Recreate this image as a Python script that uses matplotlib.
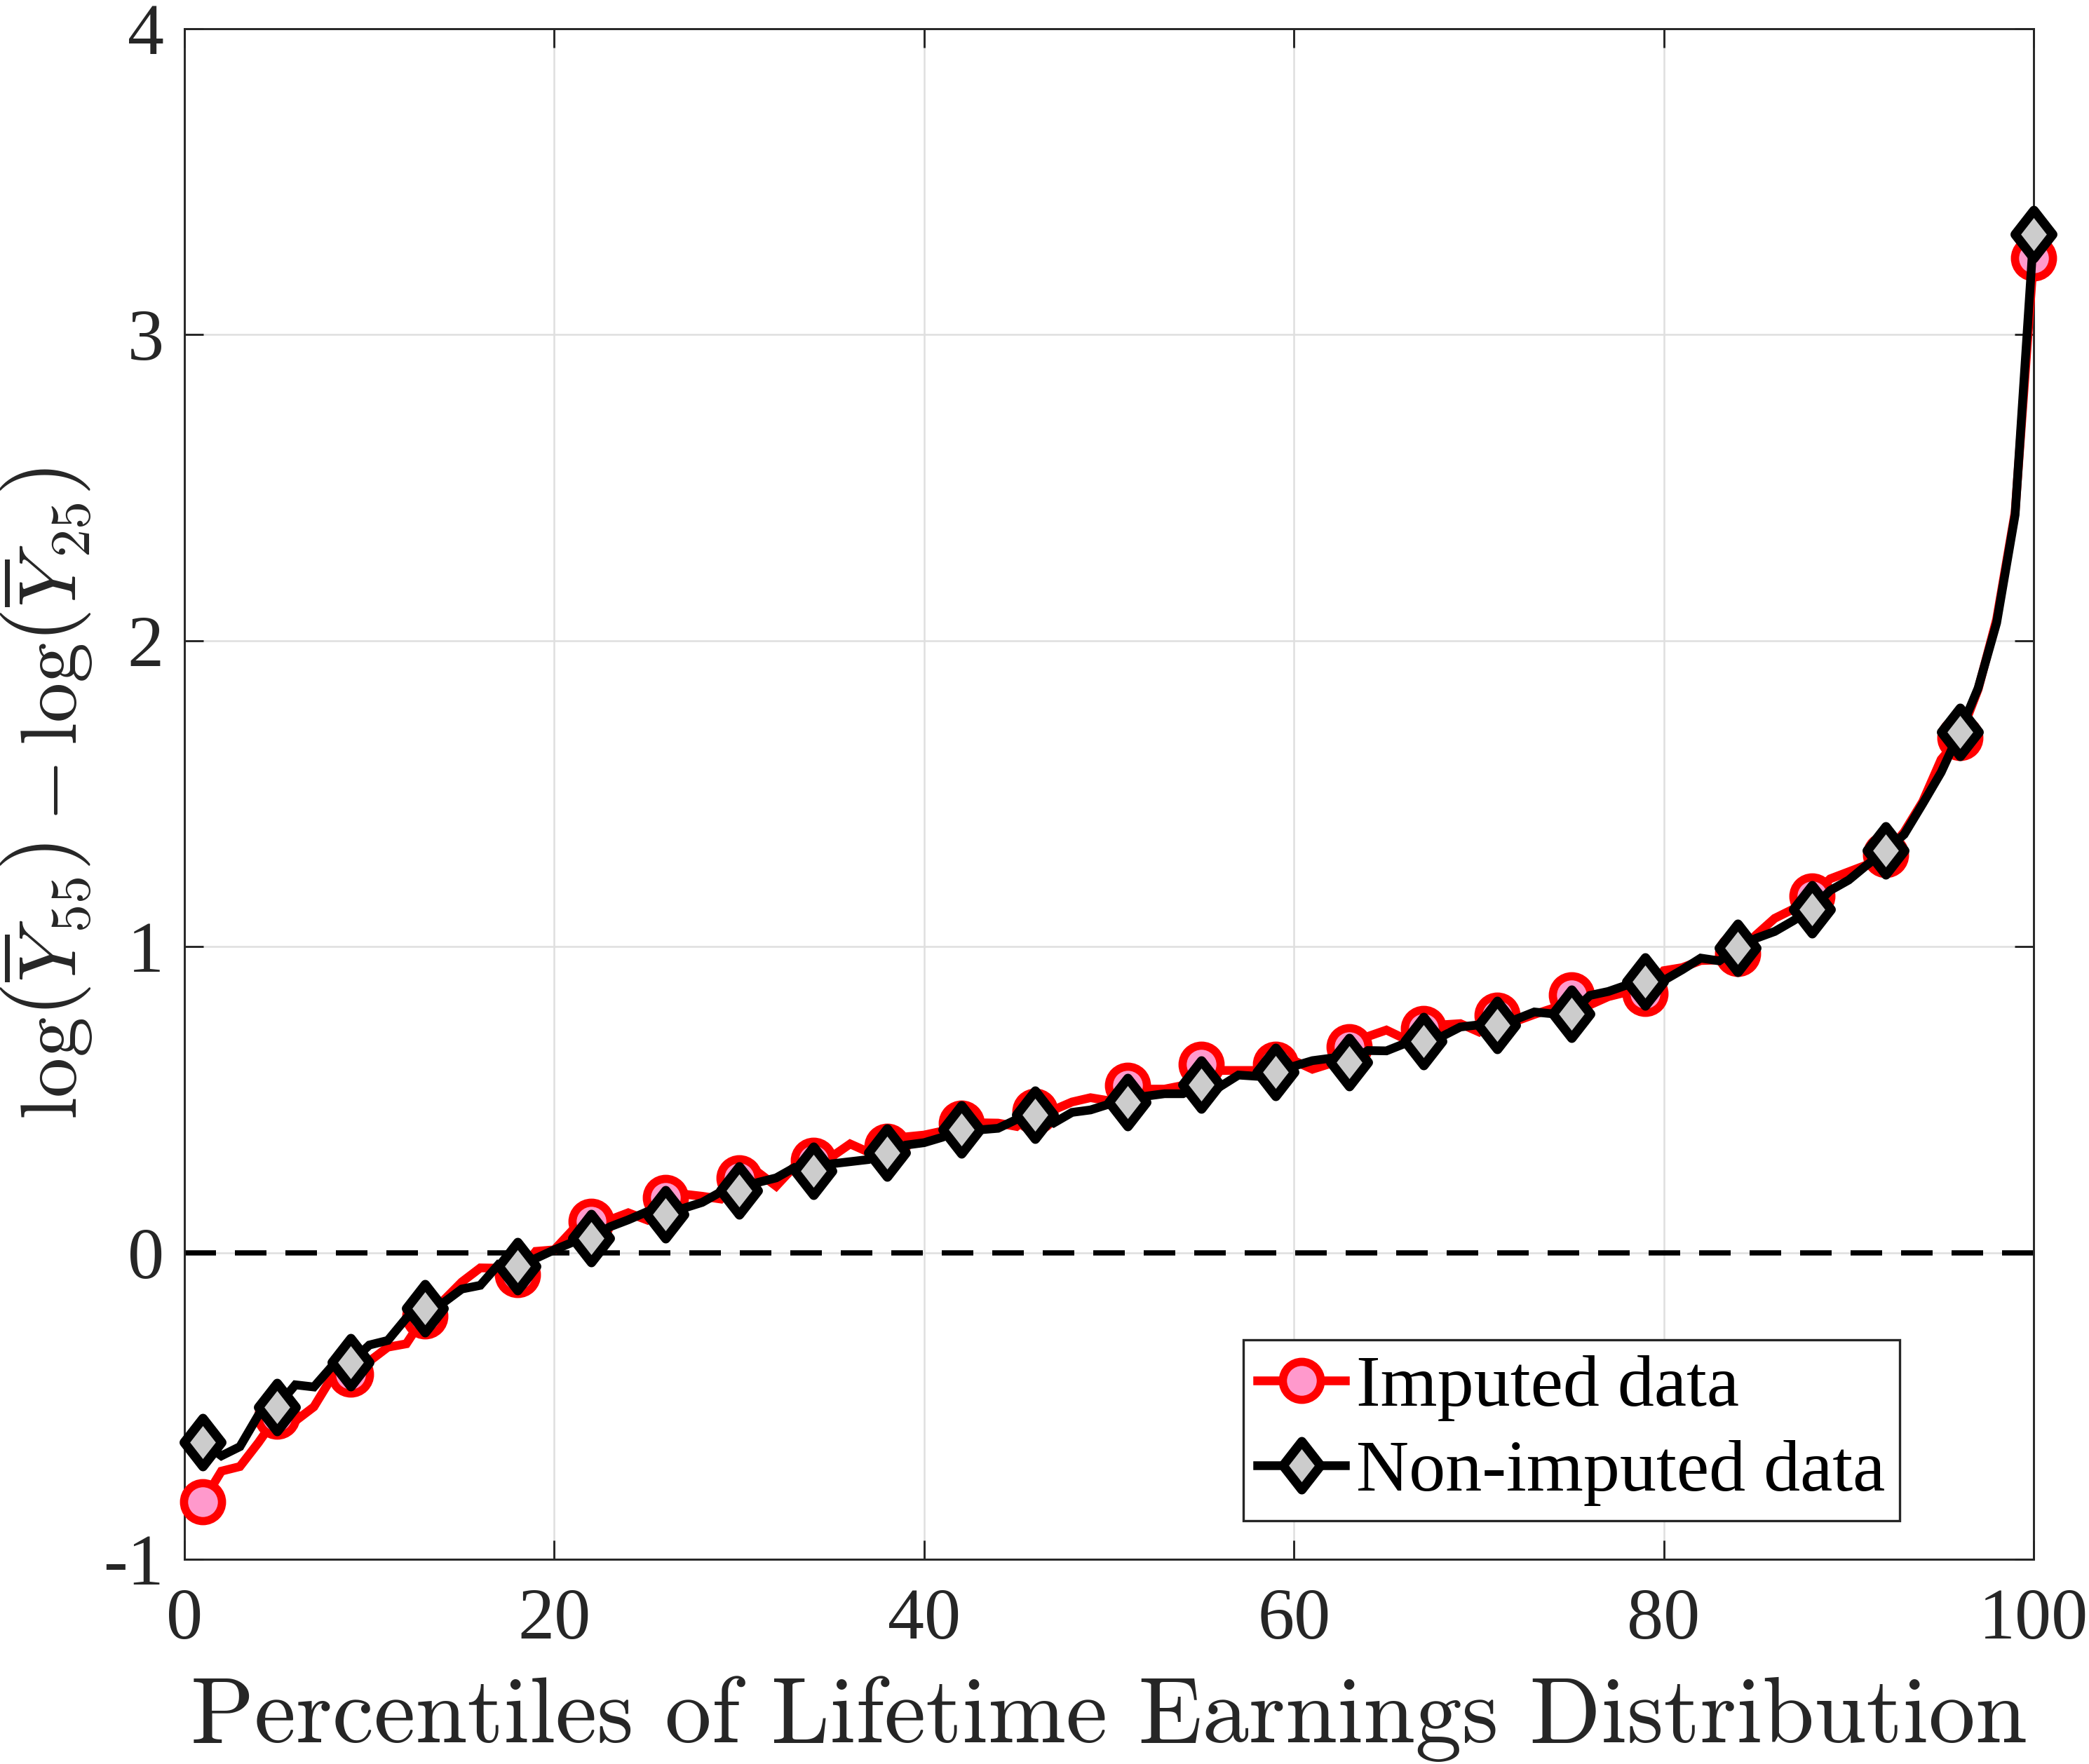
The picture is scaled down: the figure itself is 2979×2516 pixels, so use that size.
import numpy as np
import matplotlib
matplotlib.use("Agg")
import matplotlib.pyplot as plt
from matplotlib.path import Path

# ---------------- data ----------------
percentiles = list(range(1, 101))

imputed = [
    -0.812, -0.713, -0.698, -0.620, -0.534, -0.549, -0.503, -0.404, -0.396, -0.354,
    -0.308, -0.297, -0.205, -0.156, -0.095, -0.049, -0.050, -0.072, 0.005, 0.010,
    0.075, 0.104, 0.108, 0.131, 0.108, 0.180, 0.192, 0.185, 0.176, 0.245,
    0.264, 0.218, 0.283, 0.302, 0.314, 0.356, 0.329, 0.348, 0.379, 0.385,
    0.398, 0.424, 0.425, 0.424, 0.413, 0.463, 0.467, 0.493, 0.507, 0.497,
    0.547, 0.535, 0.535, 0.547, 0.615, 0.596, 0.596, 0.596, 0.615, 0.628,
    0.600, 0.619, 0.673, 0.707, 0.728, 0.699, 0.734, 0.745, 0.749, 0.722,
    0.776, 0.757, 0.779, 0.799, 0.844, 0.810, 0.837, 0.852, 0.848, 0.922,
    0.932, 0.955, 0.957, 0.978, 1.039, 1.093, 1.123, 1.165, 1.222, 1.245,
    1.268, 1.302, 1.375, 1.474, 1.612, 1.684, 1.841, 2.070, 2.420, 3.251,
]

non_imputed = [
    -0.618, -0.663, -0.633, -0.530, -0.503, -0.431, -0.438, -0.369, -0.358, -0.301,
    -0.286, -0.213, -0.182, -0.163, -0.118, -0.106, -0.037, -0.044, -0.018, 0.010,
    0.035, 0.048, 0.085, 0.108, 0.134, 0.127, 0.146, 0.165, 0.199, 0.203,
    0.230, 0.245, 0.279, 0.268, 0.291, 0.298, 0.305, 0.328, 0.352, 0.360,
    0.378, 0.404, 0.402, 0.407, 0.436, 0.451, 0.424, 0.459, 0.467, 0.486,
    0.493, 0.512, 0.520, 0.520, 0.549, 0.543, 0.581, 0.577, 0.590, 0.610,
    0.628, 0.636, 0.623, 0.661, 0.660, 0.684, 0.692, 0.707, 0.738, 0.745,
    0.745, 0.763, 0.787, 0.781, 0.782, 0.841, 0.854, 0.875, 0.886, 0.890,
    0.925, 0.963, 0.954, 0.997, 1.028, 1.050, 1.085, 1.123, 1.184, 1.218,
    1.268, 1.314, 1.367, 1.467, 1.570, 1.701, 1.845, 2.058, 2.411, 3.327,
]

marker_percentiles = [1, 5, 9, 13, 18, 22, 26, 30, 34, 38, 42, 46, 51, 55, 59,
                      63, 67, 71, 75, 79, 84, 88, 92, 96, 100]

series_labels = ["Imputed data", "Non-imputed data"]
x_ticks = [0, 20, 40, 60, 80, 100]
x_tick_labels = ["0", "20", "40", "60", "80", "100"]
y_ticks = [-1, 0, 1, 2, 3, 4]
y_tick_labels = ["-1", "0", "1", "2", "3", "4"]
x_label = "Percentiles of Lifetime Earnings Distribution"
y_label = (r"$\mathrm{log}\left(\overline{Y}_{55}\right) - "
           r"\mathrm{log}\left(\overline{Y}_{25}\right)$")

# ---------------- style ----------------
plt.rcParams["mathtext.fontset"] = "cm"
serif = ["Liberation Serif", "DejaVu Serif"]
gray = "#262626"

W, H, DPI = 2979, 2516, 300
fig = plt.figure(figsize=(W / DPI, H / DPI), dpi=DPI)
ax = fig.add_axes([263 / W, 1 - 2223.6 / H, (2900 - 263) / W, (2223.6 - 40.6) / H])

mk_idx = [percentiles.index(p) for p in marker_percentiles]
diamond = Path([(0, 1), (0.78, 0), (0, -1), (-0.78, 0), (0, 1)],
               [Path.MOVETO, Path.LINETO, Path.LINETO, Path.LINETO, Path.CLOSEPOLY])

ax.axhline(0, color="black", lw=1.8, dashes=(6, 3.6), zorder=2)

ax.plot(percentiles, imputed, color="#FF0000", lw=3.0, marker="o", markersize=13,
        markerfacecolor="#FF99CC", markeredgecolor="#FF0000", markeredgewidth=2.8,
        markevery=mk_idx, label=series_labels[0], clip_on=False, zorder=3,
        solid_joinstyle="miter")
ax.plot(percentiles, non_imputed, color="black", lw=3.0, marker=diamond, markersize=16.5,
        markerfacecolor="#CCCCCC", markeredgecolor="black", markeredgewidth=3.2,
        markevery=mk_idx, label=series_labels[1], clip_on=False, zorder=4,
        solid_joinstyle="miter")

ax.set_xlim(0, 100)
ax.set_ylim(-1, 4)
ax.set_xticks(x_ticks)
ax.set_xticklabels(x_tick_labels)
ax.set_yticks(y_ticks)
ax.set_yticklabels(y_tick_labels)

ax.grid(True, color="#DFDFDF", lw=0.6, zorder=0)
ax.set_axisbelow(True)
for s in ax.spines.values():
    s.set_color(gray)
    s.set_linewidth(0.7)
ax.tick_params(axis="both", which="both", direction="in", length=6.5, width=0.7,
               color=gray, labelcolor=gray, top=True, right=True, labelsize=25)
ax.tick_params(axis="x", pad=10)
ax.tick_params(axis="y", pad=7)
for lab in ax.get_xticklabels() + ax.get_yticklabels():
    lab.set_fontfamily(serif)

ax.set_xlabel(x_label, fontfamily="cmr10", fontsize=32, color=gray, va="baseline")
ax.xaxis.set_label_coords(0.5, -(2485 - 2223.6) / 2183)
ax.set_ylabel(y_label, fontsize=27.5, color=gray, va="center")
ax.yaxis.set_label_coords((67 - 263) / 2637, 0.5)

leg = ax.legend(loc="lower right", bbox_to_anchor=(0.9276, 0.025),
                prop={"family": serif, "size": 25}, frameon=True, fancybox=False,
                framealpha=1, edgecolor=gray, borderpad=0.2, borderaxespad=0,
                handlelength=1.2, handletextpad=0.15, labelspacing=0.25, numpoints=1)
leg.get_frame().set_linewidth(0.8)

fig.savefig("out.png", dpi=DPI)
